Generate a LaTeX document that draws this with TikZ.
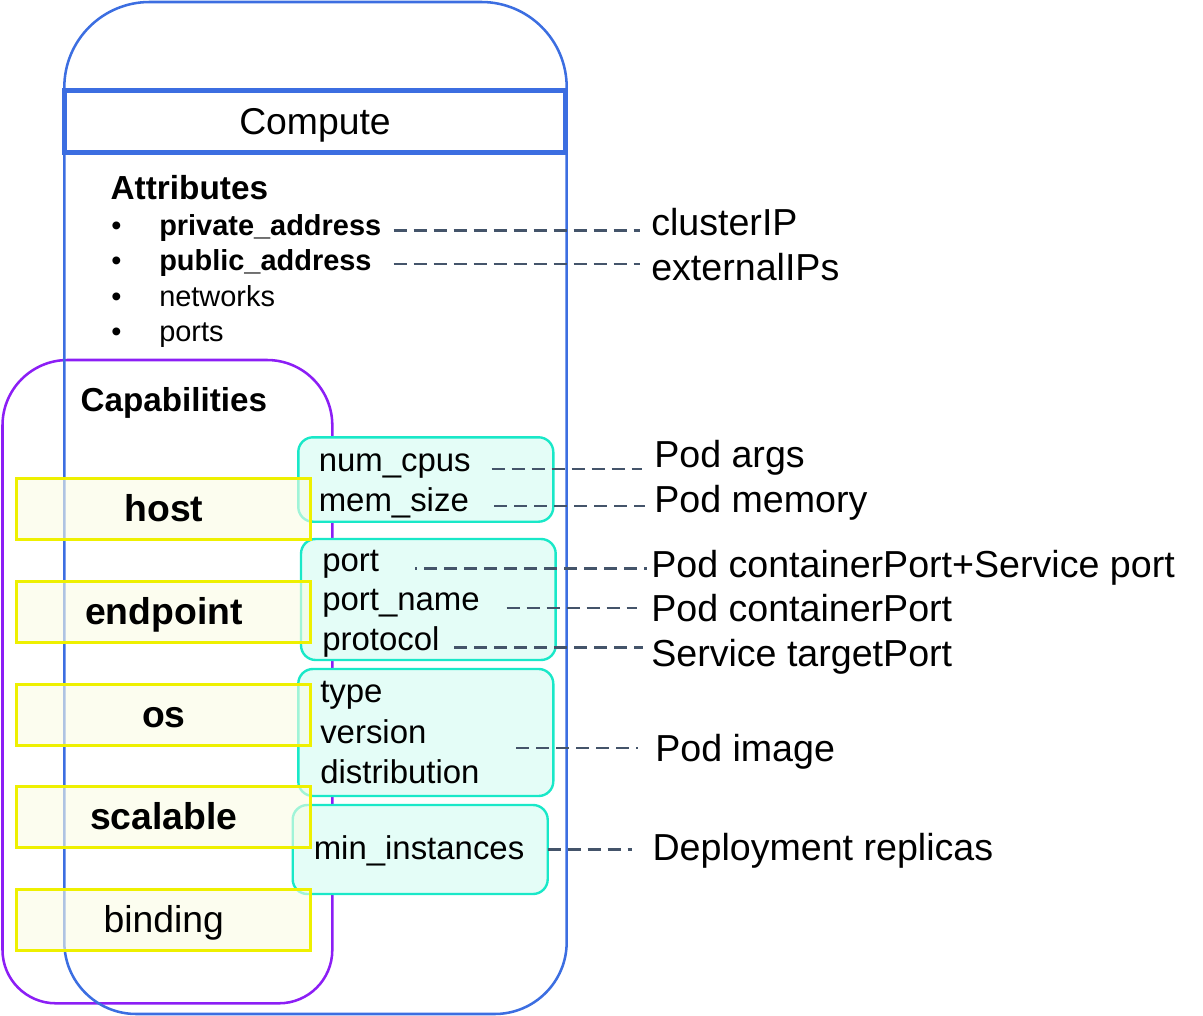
\documentclass[tikz,border=0pt]{standalone}
\usepackage{fontspec}
\setmainfont{Liberation Sans}

\definecolor{computeblue}{RGB}{60,110,225}
\definecolor{capviolet}{RGB}{140,30,245}
\definecolor{capyellow}{RGB}{238,240,0}
\definecolor{capfill}{RGB}{250,252,228}
\definecolor{attrcyan}{RGB}{25,232,200}
\definecolor{attrfill}{RGB}{228,253,247}
\definecolor{linkgray}{RGB}{68,84,106}

\begin{document}
\begin{tikzpicture}[x=0.75pt,y=-0.75pt,
    every node/.style={inner sep=0pt},
    txt/.style={anchor=base west},
    capbox/.style={draw=capyellow, line width=2.25pt, fill=capfill, fill opacity=0.6, text opacity=1,
      minimum width=220.7pt, minimum height=45.75pt, text height=18.7pt, text depth=0pt,
      font=\fontsize{28}{34}\selectfont\bfseries},
    attrbox/.style={draw=attrcyan, line width=1.8pt, fill=attrfill, rounded corners=11pt, minimum width=191.25pt},
    attrtext/.style={txt, font=\fontsize{24.7}{30}\selectfont},
    itemtext/.style={txt, font=\fontsize{21.7}{26}\selectfont},
    maptext/.style={txt, font=\fontsize{28.2}{34}\selectfont},
    maplink/.style={draw=linkgray, line width=1.8pt, dash pattern=on 10pt off 5pt},
  ]
    \useasboundingbox (0,0) rectangle (1203,1016);

    % outer frames
    \draw[capviolet, line width=1.9pt] (2.5,680) [rounded corners=49pt] -- (2.5,360) -- (332.3,360)
      -- (332.3,680) [rounded corners=40pt] -- (332.3,1003.3) -- (2.5,1003.3) -- cycle;
    \draw[computeblue, line width=1.9pt] (64.3,500) [rounded corners=64pt] -- (64.3,2) -- (566.7,2)
      -- (566.7,500) [rounded corners=54pt] -- (566.7,1014) -- (64.3,1014) -- cycle;

    \node[draw=computeblue, line width=3.75pt, minimum width=375.75pt, minimum height=46.5pt,
      text height=19pt, text depth=0pt, font=\fontsize{28}{33}\selectfont] (compute) at (315,121.5) {Compute};

    % attributes
    \node[txt, font=\fontsize{25}{30}\selectfont\bfseries] (attrs) at (110.4,200) {Attributes};
    \node[itemtext] (bullet1) at (111,236) {•};
    \node[itemtext] (bullet2) at (111,270.7) {•};
    \node[itemtext] (bullet3) at (111,306) {•};
    \node[itemtext] (bullet4) at (111,341.7) {•};
    \node[itemtext, font=\fontsize{21.7}{26}\selectfont\bfseries] (privaddr) at (159,236) {private\_address};
    \node[itemtext, font=\fontsize{21.7}{26}\selectfont\bfseries] (pubaddr) at (159,270.7) {public\_address};
    \node[itemtext] (networks) at (159,306) {networks};
    \node[itemtext] (ports) at (159,341.7) {ports};

    % capabilities
    \node[txt, font=\fontsize{24.9}{30}\selectfont\bfseries] (caps) at (80.4,411.7) {Capabilities};

    \node[attrbox, minimum height=63.3pt] (hostprops) at (425.8,479.5) {};
    \node[attrbox, minimum height=90.75pt, minimum width=191pt] (endpointprops) at (428.35,599.5) {};
    \node[attrbox, minimum height=95.25pt] (osprops) at (425.8,732.5) {};
    \node[attrbox, minimum height=66.75pt] (scaleprops) at (420.2,849.5) {};

    \node[capbox] (host) at (163.8,508.8) {host};
    \node[capbox] (endpoint) at (163.8,611.7) {endpoint};
    \node[capbox] (os) at (163.8,714.8) {os};
    \node[capbox] (scalable) at (163.8,817.3) {scalable};
    \node[capbox, font=\fontsize{28}{34}\selectfont] (binding) at (163.8,920) {binding};

    \node[attrtext] (numcpus) at (318.5,471.7) {num\_cpus};
    \node[attrtext] (memsize) at (318.5,511) {mem\_size};
    \node[attrtext] (port) at (322,571.7) {port};
    \node[attrtext] (portname) at (322,610) {port\_name};
    \node[attrtext] (protocol) at (322,650.7) {protocol};
    \node[attrtext] (ostype) at (320,702.3) {type};
    \node[attrtext] (osversion) at (320,743.3) {version};
    \node[attrtext] (osdistro) at (320,783.3) {distribution};
    \node[attrtext] (mininst) at (313.5,859) {min\_instances};

    % kubernetes side
    \node[maptext] (clusterip) at (651,235.7) {clusterIP};
    \node[maptext] (externalips) at (651,280.7) {externalIPs};
    \node[maptext] (podargs) at (654,467.7) {Pod args};
    \node[maptext] (podmemory) at (654,512.7) {Pod memory};
    \node[maptext] (podsvcport) at (651,577) {Pod containerPort+Service port};
    \node[maptext] (podport) at (651,621) {Pod containerPort};
    \node[maptext] (svctarget) at (651,666.5) {Service targetPort};
    \node[maptext] (podimage) at (655,761.7) {Pod image};
    \node[maptext] (replicas) at (652.3,860) {Deployment replicas};

    % mappings
    \coordinate (privaddr-tap) at (393.6,230.7);
    \coordinate (pubaddr-tap) at (393.6,264);
    \coordinate (numcpus-tap) at (491.7,469);
    \coordinate (memsize-tap) at (494,506);
    \coordinate (port-tap) at (415,568.3);
    \coordinate (portname-tap) at (506.7,607.7);
    \coordinate (protocol-tap) at (454,647.3);
    \coordinate (os-tap) at (516,747.7);
    \coordinate (mininst-tap) at (547.7,849.3);

    \draw[maplink, shorten >=8.5pt] (privaddr-tap) -- (privaddr-tap -| clusterip.west);
    \draw[maplink, shorten >=8.5pt] (pubaddr-tap) -- (pubaddr-tap -| externalips.west);
    \draw[maplink, shorten >=9.2pt] (numcpus-tap) -- (numcpus-tap -| podargs.west);
    \draw[maplink, shorten >=6.7pt] (memsize-tap) -- (memsize-tap -| podmemory.west);
    \draw[maplink, shorten >=3.3pt, dash phase=8.25pt] (port-tap) -- (port-tap -| podsvcport.west);
    \draw[maplink, shorten >=10.7pt] (portname-tap) -- (portname-tap -| podport.west);
    \draw[maplink, shorten >=5.7pt] (protocol-tap) -- (protocol-tap -| svctarget.west);
    \draw[maplink, shorten >=12.7pt] (os-tap) -- (os-tap -| podimage.west);
    \draw[maplink, shorten >=15.2pt] (mininst-tap) -- (mininst-tap -| replicas.west);
  \end{tikzpicture}
\end{document}
